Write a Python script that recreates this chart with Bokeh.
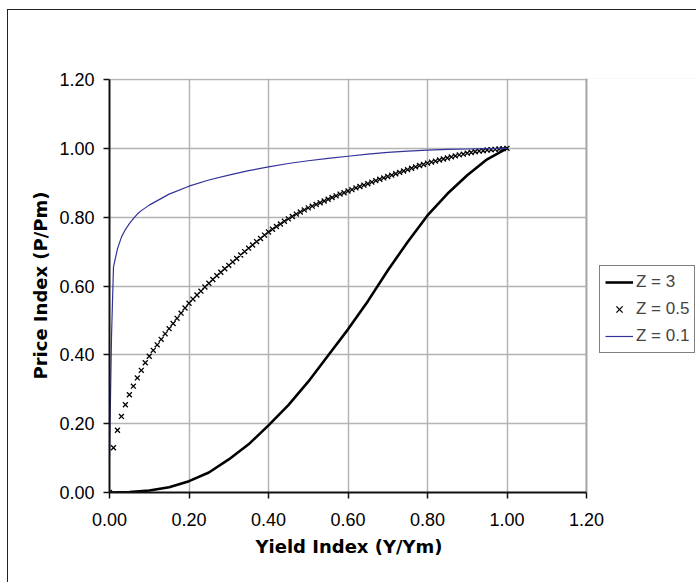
from bokeh.plotting import figure
from bokeh.models import (Legend, LegendItem, FixedTicker, CustomJSTickFormatter,
                          BoxAnnotation, Span, Title)
from bokeh.embed import file_html
from bokeh.resources import INLINE

# Z = 3 (solid black line)
x_z3 = [0.00, 0.05, 0.10, 0.15, 0.20, 0.25, 0.30, 0.35, 0.40, 0.45, 0.50,
        0.55, 0.60, 0.65, 0.70, 0.75, 0.80, 0.85, 0.90, 0.95, 1.00]
y_z3 = [0.000, 0.001, 0.006, 0.015, 0.033, 0.058, 0.096, 0.140, 0.195, 0.254, 0.322,
        0.398, 0.474, 0.556, 0.645, 0.728, 0.805, 0.868, 0.922, 0.968, 1.000]

# Z = 0.5 (x markers)
x_z05 = [i / 100 for i in range(101)]
y_z05 = [0.000, 0.130, 0.181, 0.221, 0.255, 0.284, 0.309, 0.333, 0.355, 0.377,
         0.396, 0.413, 0.429, 0.445, 0.461, 0.476, 0.491, 0.506, 0.521, 0.536,
         0.550, 0.562, 0.574, 0.585, 0.597, 0.608, 0.619, 0.630, 0.640, 0.650,
         0.660, 0.670, 0.680, 0.690, 0.700, 0.710, 0.719, 0.729, 0.738, 0.748,
         0.757, 0.765, 0.773, 0.780, 0.788, 0.795, 0.802, 0.809, 0.815, 0.821,
         0.827, 0.832, 0.837, 0.842, 0.847, 0.852, 0.857, 0.862, 0.867, 0.871,
         0.876, 0.880, 0.885, 0.889, 0.893, 0.897, 0.902, 0.906, 0.910, 0.914,
         0.918, 0.922, 0.926, 0.930, 0.934, 0.938, 0.942, 0.946, 0.950, 0.953,
         0.957, 0.960, 0.963, 0.966, 0.969, 0.972, 0.975, 0.978, 0.981, 0.983,
         0.986, 0.988, 0.990, 0.992, 0.993, 0.995, 0.996, 0.997, 0.998, 0.999,
         1.000]

# Z = 0.1 (thin blue line)
x_z01 = [0.00, 0.005, 0.01, 0.02, 0.03, 0.04, 0.05, 0.06, 0.07, 0.08, 0.09, 0.10,
         0.15, 0.20, 0.25, 0.30, 0.35, 0.40, 0.45, 0.50, 0.55, 0.60,
         0.65, 0.70, 0.75, 0.80, 0.85, 0.90, 0.95, 1.00]
y_z01 = [0.100, 0.450, 0.655, 0.708, 0.742, 0.764, 0.781, 0.796, 0.809, 0.819, 0.827, 0.835,
         0.867, 0.890, 0.908, 0.922, 0.935, 0.946, 0.956, 0.964, 0.971, 0.977,
         0.983, 0.988, 0.992, 0.995, 0.997, 0.998, 0.999, 1.000]

ticks = [0.0, 0.2, 0.4, 0.6, 0.8, 1.0, 1.2]
legend_labels = ["Z = 3", "Z = 0.5", "Z = 0.1"]
x_title = "Yield Index (Y/Ym)"
y_title = "Price Index (P/Pm)"

W, H = 689, 573
FRAME_W = W - 101          # frame reaches the right edge; legend sits inside it
X_END = 1.2 * FRAME_W / 477.0
p = figure(width=W, height=H, output_backend="svg", toolbar_location=None,
           x_range=(0, X_END), y_range=(0, 1.2 + 1.0 / 344.0),
           min_border_left=101, min_border_right=0,
           min_border_top=68, min_border_bottom=91)
p.styles = {"margin-left": "7px", "margin-top": "9px",
            "border-left": "1.5px solid #222", "border-top": "1.5px solid #222"}
p.outline_line_color = None

for ax in (p.xaxis[0], p.yaxis[0]):
    ax.ticker = FixedTicker(ticks=ticks)
    ax.formatter = CustomJSTickFormatter(code="return tick.toFixed(2);")
    ax.axis_line_color = "#111"
    ax.axis_line_width = 2
    ax.major_tick_line_color = "#111"
    ax.major_tick_line_width = 1.5
    ax.major_tick_out = 6
    ax.major_tick_in = 0
    ax.minor_tick_line_color = None
    ax.major_label_text_font = "Liberation Sans"
    ax.major_label_text_font_size = "18px"
    ax.major_label_text_color = "#000"
    ax.axis_label_text_font = "DejaVu Sans"
    ax.axis_label_text_font_style = "bold"
    ax.axis_label_text_font_size = "18px"
    ax.axis_label_text_color = "#000"

p.xaxis.bounds = (0, 1.2)
p.yaxis.bounds = (0, 1.2)
p.yaxis.axis_label = y_title
p.xaxis.major_label_standoff = 14
p.yaxis.major_label_standoff = 9
p.yaxis.axis_label_standoff = 5

# x-axis title centred under the 0..1.2 part of the frame
xt = Title(text=x_title, align="left", offset=146, standoff=11,
           vertical_align="bottom",
           text_font="DejaVu Sans", text_font_style="bold",
           text_font_size="18px", text_color="#000")
p.add_layout(xt, "below")

p.grid.ticker = FixedTicker(ticks=ticks)
p.grid.grid_line_color = "#b4b4b4"
p.grid.grid_line_width = 1.5

# blank out the area right of x = 1.2 (legend area), then redraw the edge line
p.add_layout(BoxAnnotation(left=1.2, fill_color="white", fill_alpha=1.0,
                           line_color=None, level="underlay"))
p.add_layout(Span(location=1.2, dimension="height", line_color="#a8a8a8",
                  line_width=2, level="underlay"))

r3 = p.line(x_z3, y_z3, line_color="#000000", line_width=2.6)
r05 = p.scatter(x_z05, y_z05, marker="x", size=7, line_color="#000000", line_width=1.3)
r01 = p.line(x_z01, y_z01, line_color="#333399", line_width=1.2)

legend = Legend(items=[LegendItem(label=legend_labels[0], renderers=[r3]),
                       LegendItem(label=legend_labels[1], renderers=[r05]),
                       LegendItem(label=legend_labels[2], renderers=[r01])],
                location=(490, 139))
legend.border_line_color = "#000"
legend.border_line_width = 1.2
legend.background_fill_alpha = 1
legend.label_text_font = "Liberation Sans"
legend.label_text_font_size = "17px"
legend.label_height = 22
legend.glyph_height = 22
legend.glyph_width = 28
legend.spacing = 5
legend.padding = 5
legend.margin = 0
legend.label_standoff = 3
p.add_layout(legend, "center")

open("out.html", "w").write(file_html(p, INLINE))
